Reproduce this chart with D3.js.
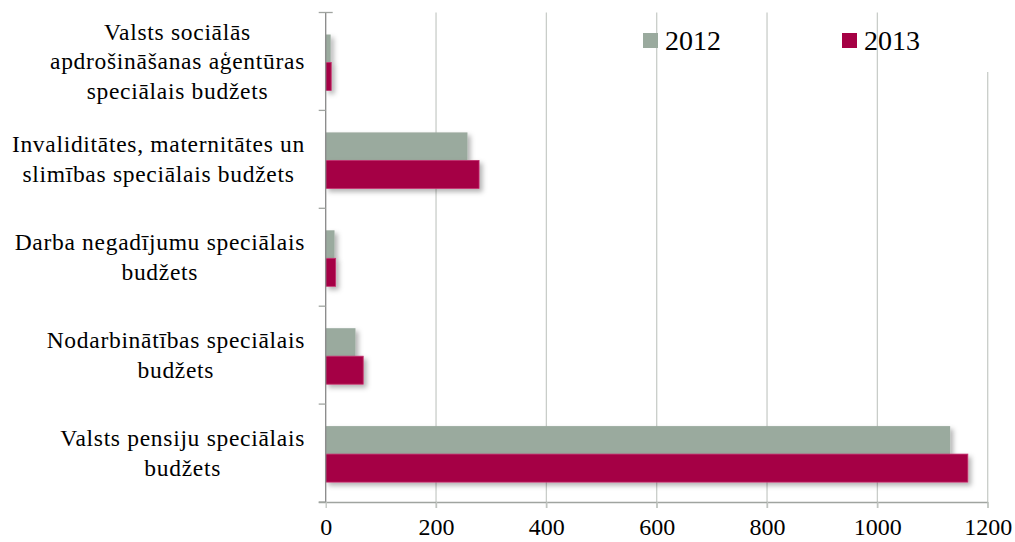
<!DOCTYPE html>
<html><head><meta charset="utf-8">
<script src="https://cdn.jsdelivr.net/npm/d3@7"></script>
<style>body{margin:0;background:#fff}svg{display:block}</style>
</head><body><svg id="c" width="1015" height="542"></svg>
<script>
const categories = [
  ["Valsts sociālās","apdrošināšanas aģentūras","speciālais budžets"],
  ["Invaliditātes, maternitātes un","slimības speciālais budžets"],
  ["Darba negadījumu speciālais","budžets"],
  ["Nodarbinātības speciālais","budžets"],
  ["Valsts pensiju speciālais","budžets"]
];
const seriesNames = ["2012","2013"];
const values2012 = [9, 257, 16, 54, 1132];
const values2013 = [10, 278, 18, 68, 1164];
const xTicks = [0,200,400,600,800,1000,1200];
const colors = ["#9aaa9e","#a50044"];
const FONT = "'Liberation Serif', 'Times New Roman', serif";

const svg = d3.select("#c");
const defs = svg.append("defs");
const f = defs.append("filter").attr("id","sh").attr("x","-10%").attr("y","-30%").attr("width","130%").attr("height","180%");
f.append("feDropShadow").attr("dx",3).attr("dy",3).attr("stdDeviation",2.5).attr("flood-color","#000").attr("flood-opacity",0.3);

const x = d3.scaleLinear().domain([0,1200]).range([325.7,987.7]);
const idx = categories.map((d,i)=>i);
const y = d3.scaleBand().domain(idx).range([12.5,502]);
const ys = d3.scaleBand().domain(seriesNames).range([22,78]);

svg.append("g").selectAll("line").data(xTicks.slice(1)).join("line")
  .attr("x1",d=>x(d)).attr("x2",d=>x(d))
  .attr("y1",d=>d===1200?72:12.5).attr("y2",508)
  .attr("stroke","#c9cdc9").attr("stroke-width",1.3);

const data = [values2012, values2013];
seriesNames.forEach((s,si)=>{
  svg.append("g").attr("filter","url(#sh)").selectAll("rect").data(data[si]).join("rect")
    .attr("x",x(0)).attr("y",(d,i)=>y(i)+ys(s))
    .attr("width",d=>x(d)-x(0)).attr("height",ys.bandwidth())
    .attr("fill",colors[si])
    .attr("stroke",si===1?"#c4306e":"none").attr("stroke-width",0.8);
});

const xAxis = d3.axisBottom(x).tickValues(xTicks).tickSize(6).tickPadding(10).tickFormat(d3.format("d"));
const gx = svg.append("g").attr("transform","translate(0,502)").call(xAxis);
gx.select(".domain").attr("stroke","#a0a4a0").attr("stroke-width",1.3).attr("d",`M${x(0)-7},0.5H${x(1200)}`);
gx.selectAll(".tick line").attr("stroke","#c0c4c0").attr("stroke-width",1.3);
gx.selectAll(".tick text").style("font-size","24px").style("font-family",FONT).attr("fill","#000");

svg.append("line").attr("x1",x(0)).attr("x2",x(0)).attr("y1",12.5).attr("y2",502).attr("stroke","#888").attr("stroke-width",1.3);
svg.append("g").selectAll("line").data(idx.concat([5])).join("line")
  .attr("x1",x(0)-7).attr("x2",d=>d===0?x(0)+7:x(0))
  .attr("y1",d=>d<5?y(d):502).attr("y2",d=>d<5?y(d):502)
  .attr("stroke","#a0a4a0").attr("stroke-width",1.3);

const fs = 23.5, lh = 29.5, rightEdge = 305;
categories.forEach((lines,i)=>{
  const g = svg.append("g");
  const t = g.selectAll("text").data(lines).join("text")
    .style("font-family",FONT).style("font-size",fs+"px").style("letter-spacing","0.7px")
    .attr("fill","#000").text(d=>d);
  const widths = t.nodes().map(n=>n.getComputedTextLength());
  const maxW = d3.max(widths);
  const cx = rightEdge - maxW/2;
  const cy = y(i) + y.bandwidth()/2;
  const n = lines.length;
  t.attr("text-anchor","middle").attr("x",cx)
   .attr("y",(d,j)=>cy + (j-(n-1)/2)*lh + fs*0.33);
});

const lx = [643, 842];
seriesNames.forEach((s,i)=>{
  svg.append("rect").attr("x",lx[i]).attr("y",33).attr("width",15).attr("height",15).attr("fill",colors[i]);
  svg.append("text").attr("x",lx[i]+22).attr("y",49.5).style("font-family",FONT).style("font-size","28px").attr("fill","#000").text(s);
});
</script></body></html>
